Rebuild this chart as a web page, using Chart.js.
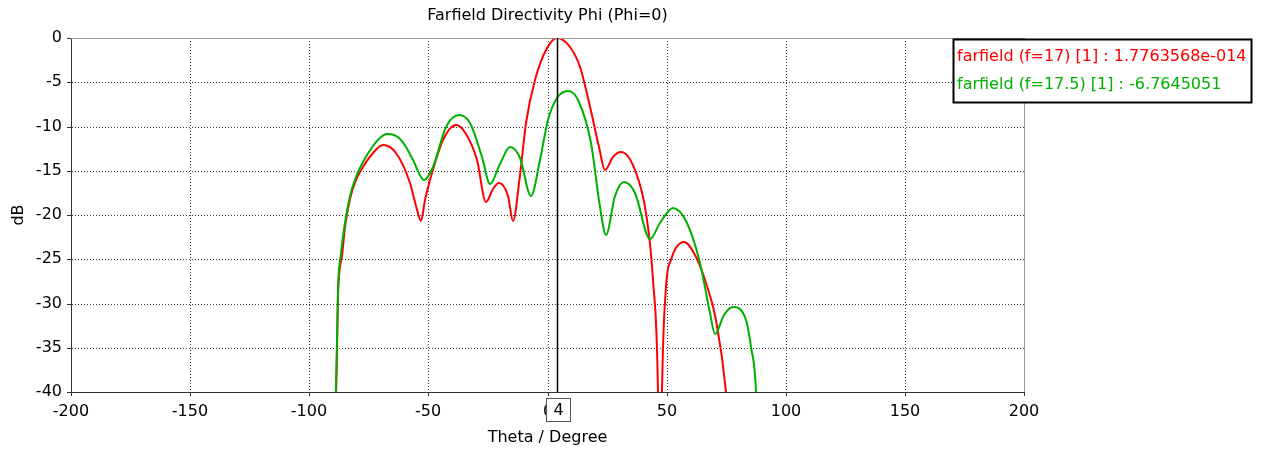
<!DOCTYPE html>
<html>
<head>
<meta charset="utf-8">
<title>Farfield Directivity Phi (Phi=0)</title>
<script src="https://cdn.jsdelivr.net/npm/chart.js@4/dist/chart.umd.min.js"></script>
<style>
  html, body { margin: 0; padding: 0; background: #ffffff; }
  #wrap { width: 1264px; height: 450px; }
</style>
</head>
<body>
<div id="wrap"><canvas id="chart" width="1264" height="450"></canvas></div>
<script>
// Farfield directivity cut at Phi = 0, two frequencies
const chartTitle = 'Farfield Directivity Phi (Phi=0)';
const xAxisTitle = 'Theta / Degree';
const yAxisTitle = 'dB';
const seriesNames = ['farfield (f=17) [1]', 'farfield (f=17.5) [1]'];
const seriesColors = ['#ff0000', '#00b000'];

// f = 17
const thetaF17 = [-90, -89, -88.5, -87.8, -86.4, -85, -83, -80.2, -77.4, -73.2,
  -69, -63.4, -57.8, -55.2, -53.3, -51.5, -49.4, -43.8, -38.5, -34,
  -29.8, -26, -23, -20.3, -16.6, -14.5, -11.7, -8.9, -5.4,
  -0.5, 4, 9.3, 13.5, 18.4, 21.5, 24, 27.5, 31, 36.6,
  41.5, 44.3, 46.3, 47.2, 48, 49.9, 52, 57.1, 62.5, 66.6,
  70.8, 75, 77, 80];
const dbF17 = [-70, -47, -35.5, -29, -24.6, -21.3, -18.2, -16, -14.6, -13,
  -12.1, -13, -16.4, -19, -20.7, -18.3, -16, -11.5, -9.85, -10.8,
  -13.8, -18.5, -17.1, -16.35, -17.9, -20.7, -15.5, -9.6, -4.8,
  -1.4, 1.7763568e-14, -1.0, -3.3, -8.2, -12.3, -14.9, -13.4, -12.9, -14.9,
  -19.8, -27.3, -40, -60, -40, -28.1, -25.1, -23.1, -24.7, -27.7,
  -31.85, -40, -48, -60];

// f = 17.5
const thetaF175 = [-90, -89, -88.55, -87.9, -86.5, -85.1, -83, -80.2, -77.4, -73.2,
  -70, -67.3, -64.5, -62, -59.2, -56.4, -51.9, -48, -42.4, -37.1, -32.6, -27.7,
  -24, -20, -15.6, -11.7, -6.8, -3.3, 0.2, 4, 8.6, 12.8,
  18.4, 21.9, 24.4, 28.2, 32, 36.6, 42.9, 47.1, 52.5, 58.4,
  63.8, 68, 70.1, 73.9, 77.8, 83.4, 85.5, 87.6, 88.5, 90];
const dbF175 = [-70, -46, -34.1, -28.5, -24.3, -20.9, -17.9, -15.7, -14.0, -12.2,
  -11.2, -10.8, -10.95, -11.4, -12.3, -13.8, -16.05, -14.55, -10.0, -8.7, -9.65, -13.4,
  -16.5, -14.2, -12.3, -13.6, -17.9, -13.8, -9.3, -6.7645051, -5.98, -7.0,
  -11.9, -19.1, -22.3, -17.9, -16.3, -17.55, -22.7, -20.9, -19.25, -20.85,
  -25.45, -31.1, -33.4, -31.3, -30.4, -31.85, -34.9, -40, -48, -70];

// axis ranges and tick spacing
const xMin = -200, xMax = 200, xStep = 50;
const yMin = -40, yMax = 0, yStep = 5;

// cursor position on theta
const markerTheta = 4;

const FONT = 'DejaVu Sans';

function toPoints(xs, ys) {
  return xs.map((x, i) => ({ x: x, y: ys[i] }));
}

function valueAt(xs, ys, x) {
  const i = xs.indexOf(x);
  return i >= 0 ? ys[i] : NaN;
}

// numbers in the style "1.7763568e-014" / "-6.7645051"
function formatValue(v) {
  if (v !== 0 && Math.abs(v) < 1e-4) {
    return v.toExponential(7).replace(/e([+-])(\d+)$/, (m, s, d) => 'e' + s + d.padStart(3, '0'));
  }
  return v.toPrecision(8);
}

const seriesX = [thetaF17, thetaF175];
const seriesY = [dbF17, dbF175];

const overlayPlugin = {
  id: 'overlay',
  afterDatasetsDraw(chart) {
    const ctx = chart.ctx;
    const area = chart.chartArea;
    const xs = chart.scales.x;

    ctx.save();
    // title, centred over the plot area
    ctx.fillStyle = '#000000';
    ctx.font = '16px "' + FONT + '"';
    ctx.textAlign = 'center';
    ctx.textBaseline = 'alphabetic';
    ctx.fillText(chartTitle, (area.left + area.right) / 2, 20);

    // top and right frame
    ctx.strokeStyle = '#9a9a9a';
    ctx.lineWidth = 1;
    ctx.beginPath();
    ctx.moveTo(Math.round(area.left), Math.round(area.top) + 0.5);
    ctx.lineTo(Math.round(area.right), Math.round(area.top) + 0.5);
    ctx.moveTo(Math.round(area.right) + 0.5, Math.round(area.top));
    ctx.lineTo(Math.round(area.right) + 0.5, Math.round(area.bottom));
    ctx.stroke();

    // cursor line
    const mx = Math.round(xs.getPixelForValue(markerTheta)) + 0.5;
    ctx.strokeStyle = '#000000';
    ctx.lineWidth = 1.5;
    ctx.beginPath();
    ctx.moveTo(mx, area.top);
    ctx.lineTo(mx, area.bottom);
    ctx.stroke();

    // cursor value box on the theta axis
    const bw = 24, bh = 23;
    const bx = Math.round(mx - bw / 2) + 0.5;
    const by = Math.round(area.bottom) + 6.5;
    ctx.fillStyle = '#ffffff';
    ctx.fillRect(bx, by, bw, bh);
    ctx.strokeStyle = '#555555';
    ctx.lineWidth = 1;
    ctx.strokeRect(bx, by, bw, bh);
    ctx.fillStyle = '#000000';
    ctx.textAlign = 'center';
    ctx.textBaseline = 'middle';
    ctx.fillText(String(markerTheta), bx + bw / 2, by + bh / 2 + 1);

    // legend with values at the cursor
    const lx = 953.5, ly = 39.5, lw = 298, lh = 63;
    ctx.fillStyle = '#ffffff';
    ctx.fillRect(lx, ly, lw, lh);
    ctx.strokeStyle = '#000000';
    ctx.lineWidth = 2;
    ctx.strokeRect(lx, ly, lw, lh);
    ctx.textAlign = 'left';
    ctx.textBaseline = 'alphabetic';
    const baselines = [60.5, 88.5];
    seriesNames.forEach((name, i) => {
      const v = valueAt(seriesX[i], seriesY[i], markerTheta);
      ctx.fillStyle = seriesColors[i];
      ctx.fillText(name + ' : ' + formatValue(v), 957, baselines[i]);
    });
    ctx.restore();
  }
};

const gridOpts = {
  color: '#3a3a3a',
  lineWidth: 1,
  tickLength: 4,
  tickColor: '#333333',
  tickBorderDash: [],
  tickWidth: 1
};
const borderOpts = { display: true, color: '#333333', width: 1, dash: [1, 2] };

new Chart(document.getElementById('chart'), {
  type: 'line',
  data: {
    datasets: [
      {
        label: seriesNames[0],
        data: toPoints(thetaF17, dbF17),
        borderColor: seriesColors[0],
        backgroundColor: seriesColors[0],
        borderWidth: 2,
        pointRadius: 0,
        cubicInterpolationMode: 'monotone',
        order: 2
      },
      {
        label: seriesNames[1],
        data: toPoints(thetaF175, dbF175),
        borderColor: seriesColors[1],
        backgroundColor: seriesColors[1],
        borderWidth: 2,
        pointRadius: 0,
        cubicInterpolationMode: 'monotone',
        order: 1
      }
    ]
  },
  options: {
    responsive: false,
    animation: false,
    devicePixelRatio: 1,
    layout: { padding: { left: 0, right: 240, top: 38, bottom: 0 } },
    plugins: {
      legend: { display: false },
      tooltip: { enabled: false },
      title: { display: false }
    },
    scales: {
      x: {
        type: 'linear',
        min: xMin,
        max: xMax,
        alignToPixels: true,
        afterFit(scale) { scale.height = 58; },
        ticks: {
          stepSize: xStep,
          color: '#000000',
          font: { family: FONT, size: 16 },
          padding: 6,
          maxRotation: 0
        },
        grid: gridOpts,
        border: borderOpts,
        title: {
          display: true,
          text: xAxisTitle,
          color: '#000000',
          font: { family: FONT, size: 16 },
          padding: { top: 0, bottom: 3 }
        }
      },
      y: {
        type: 'linear',
        min: yMin,
        max: yMax,
        alignToPixels: true,
        afterFit(scale) { scale.width = 71; },
        ticks: {
          stepSize: yStep,
          color: '#000000',
          font: { family: FONT, size: 16 },
          padding: 5
        },
        grid: gridOpts,
        border: borderOpts,
        title: {
          display: true,
          text: yAxisTitle,
          color: '#000000',
          font: { family: FONT, size: 16 },
          padding: { top: 9, bottom: 0 }
        }
      }
    }
  },
  plugins: [overlayPlugin]
});
</script>
</body>
</html>
